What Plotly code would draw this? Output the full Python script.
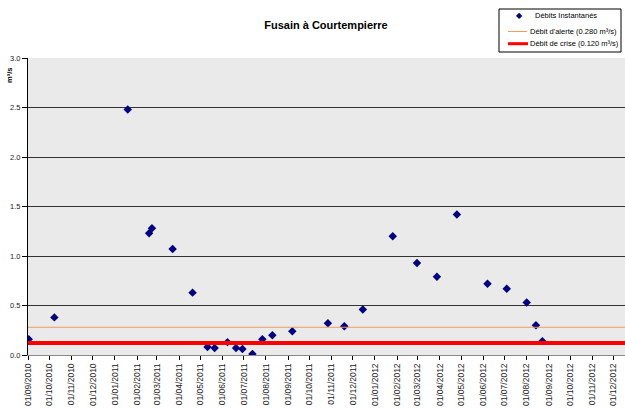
import plotly.graph_objects as go

# Data
dates = ["2010-09-02", "2010-10-08", "2011-01-19", "2011-02-18", "2011-02-22",
         "2011-03-23", "2011-04-20", "2011-05-11", "2011-05-21", "2011-06-08",
         "2011-06-20", "2011-06-29", "2011-07-13", "2011-07-27", "2011-08-10",
         "2011-09-07", "2011-10-27", "2011-11-19", "2011-12-15", "2012-01-26",
         "2012-02-29", "2012-03-28", "2012-04-25", "2012-06-07", "2012-07-04",
         "2012-08-01", "2012-08-14", "2012-08-23"]
debits = [0.16, 0.38, 2.48, 1.23, 1.28,
          1.07, 0.63, 0.08, 0.07, 0.13,
          0.07, 0.06, 0.01, 0.16, 0.20,
          0.24, 0.32, 0.29, 0.46, 1.20,
          0.93, 0.79, 1.42, 0.72, 0.67,
          0.53, 0.30, 0.14]
ALERTE = 0.280
CRISE = 0.120
x_range = ["2010-09-01", "2012-12-17"]
names = ["Débits Instantanés", "Débit d'alerte (0.280 m³/s)",
         "Débit de crise (0.120 m³/s)"]

W, H = 625, 409
L, R, T, B = 28, 0, 58, 54
PW, PH = W - L - R, H - T - B


def px(p):
    return (p - L) / PW


def py(p):
    return (H - B - p) / PH


NAVY, ORANGE, RED = "#000080", "#F39A5E", "#FF0000"

fig = go.Figure()
fig.add_trace(go.Scatter(
    x=dates, y=debits, mode="markers", name=names[0],
    marker=dict(symbol="diamond", size=6.5, color=NAVY),
))
fig.add_trace(go.Scatter(
    x=x_range, y=[ALERTE, ALERTE], mode="lines", name=names[1],
    line=dict(color=ORANGE, width=1),
))
fig.add_trace(go.Scatter(
    x=x_range, y=[CRISE, CRISE], mode="lines", name=names[2],
    line=dict(color=RED, width=4),
))

# Hand-drawn legend box (matches the compact legend of the reference)
shapes = [
    dict(type="rect", xref="paper", yref="paper", x0=px(499), x1=px(621),
         y0=py(52), y1=py(9), fillcolor="white",
         line=dict(color="black", width=1), layer="above"),
    dict(type="line", xref="paper", yref="paper", x0=px(508), x1=px(527),
         y0=py(31.5), y1=py(31.5), line=dict(color=ORANGE, width=1),
         layer="above"),
    dict(type="line", xref="paper", yref="paper", x0=px(508), x1=px(528),
         y0=py(43.7), y1=py(43.7), line=dict(color=RED, width=3),
         layer="above"),
]
lfont = dict(family="Liberation Sans, Arial, sans-serif", size=7.5, color="#000")
annotations = [
    dict(text="<b>m³/s</b>", xref="paper", yref="paper",
         x=px(10), y=py(76), textangle=-90, showarrow=False,
         xanchor="center", yanchor="middle",
         font=dict(size=7.5, color="#000")),
    dict(text="◆", xref="paper", yref="paper", x=px(519), y=py(15.7),
         showarrow=False, xanchor="center", yanchor="middle",
         font=dict(family="DejaVu Sans", size=8, color=NAVY)),
    dict(text=names[0], xref="paper", yref="paper", x=px(533), y=py(15.7),
         showarrow=False, xanchor="left", yanchor="middle", font=lfont),
    dict(text=names[1], xref="paper", yref="paper", x=px(528), y=py(31.5),
         showarrow=False, xanchor="left", yanchor="middle", font=lfont),
    dict(text=names[2], xref="paper", yref="paper", x=px(528), y=py(43.7),
         showarrow=False, xanchor="left", yanchor="middle", font=lfont),
]

fig.update_layout(
    width=W, height=H,
    margin=dict(l=L, r=R, t=T, b=B, pad=0, autoexpand=False),
    paper_bgcolor="white",
    plot_bgcolor="#EAEAEA",
    font=dict(family="Liberation Sans, Arial, sans-serif", size=8, color="#222"),
    title=dict(text="<b>Fusain à Courtempierre</b>", x=326 / W, xanchor="center",
               y=1 - 25 / H, yanchor="middle",
               font=dict(size=11, color="#000")),
    showlegend=False,
    xaxis=dict(type="date", range=x_range, tick0="2010-09-01", dtick="M1",
               tickformat="%d/%m/%Y", tickangle=-90,
               ticks="outside", ticklen=4, tickcolor="#000",
               showgrid=False, showline=True, linecolor="#888", linewidth=1,
               tickfont=dict(size=8.5, color="#222")),
    yaxis=dict(range=[0, 3], dtick=0.5, tickformat=".1f",
               ticks="outside", ticklen=5, tickcolor="#000",
               showgrid=True, gridcolor="#333", gridwidth=1,
               zeroline=False, showline=True, linecolor="#000", linewidth=1,
               tickfont=dict(size=7.5, color="#222")),
    shapes=shapes,
    annotations=annotations,
)

fig.write_html("out.html",
               config={"displayModeBar": False},
               post_script="document.body.style.margin='0';"
                           "document.body.style.overflow='hidden';")
